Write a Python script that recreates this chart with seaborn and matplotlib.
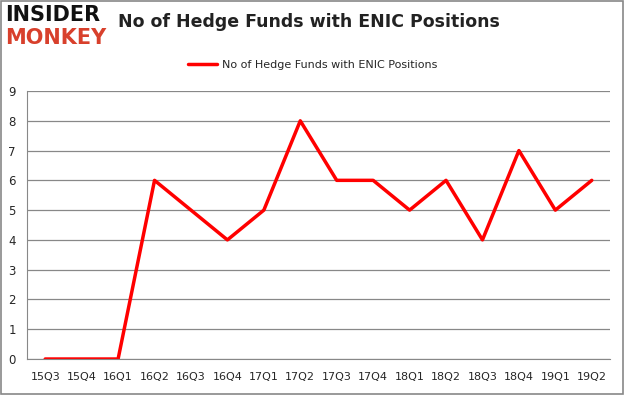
import matplotlib
matplotlib.use('Agg')
import matplotlib.pyplot as plt
import seaborn as sns
import pandas as pd
import numpy as np
from matplotlib.patches import Rectangle

quarters = ['15Q3', '15Q4', '16Q1', '16Q2', '16Q3', '16Q4', '17Q1', '17Q2',
            '17Q3', '17Q4', '18Q1', '18Q2', '18Q3', '18Q4', '19Q1', '19Q2']
funds = [0, 0, 0, 6, 5, 4, 5, 8, 6, 6, 5, 6, 4, 7, 5, 6]
series_name = 'No of Hedge Funds with ENIC Positions'

df = pd.DataFrame({'quarter': quarters, 'funds': funds})

sns.set_style('white')
plt.rcParams['font.family'] = ['DejaVu Sans']

fig = plt.figure(figsize=(6.25, 3.95), dpi=100)
ax = fig.add_axes([0.0432, 0.0911, 0.9328, 0.6785])

sns.lineplot(data=df, x='quarter', y='funds', color='#ff0000', linewidth=2.5,
             label=series_name, ax=ax, sort=False)

ax.set_xlim(-0.5, len(quarters) - 0.5)
ax.set_ylim(0, 9)
ax.set_yticks(range(10))
ax.set_xticks(range(len(quarters)))
ax.set_xticklabels(quarters, fontsize=8)
ax.set_xticks(np.arange(-0.5, len(quarters), 1), minor=True)
ax.tick_params(axis='x', which='major', length=0, pad=9)
ax.tick_params(axis='x', which='minor', length=4, color='#888888')
ax.tick_params(axis='y', length=4, color='#888888', labelsize=8.5, pad=4)
ax.grid(axis='y', color='#888888', linewidth=0.9)
ax.set_xlabel('')
ax.set_ylabel('')
for side in ['top', 'right']:
    ax.spines[side].set_visible(False)
for side in ['left', 'bottom']:
    ax.spines[side].set_color('#888888')

ax.legend(loc='lower center', bbox_to_anchor=(0.49, 1.04), frameon=False,
          fontsize=8, handlelength=2.6, handletextpad=0.4)

fig.text(0.494, 0.944, series_name, ha='center', va='center',
         fontsize=12.5, fontweight='bold', color='#222222')

fig.text(0.008, 0.963, 'INSIDER', ha='left', va='center', fontsize=15,
         fontweight='bold', color='#111111', family='DejaVu Sans')
fig.text(0.008, 0.905, 'MONKEY', ha='left', va='center', fontsize=15,
         fontweight='bold', color='#d8402c', family='DejaVu Sans')

fig.patches.append(Rectangle((0.002, 0.003), 0.995, 0.994, transform=fig.transFigure,
                             fill=False, edgecolor='#888888', linewidth=1.2))

fig.savefig('out.png', dpi=100)
